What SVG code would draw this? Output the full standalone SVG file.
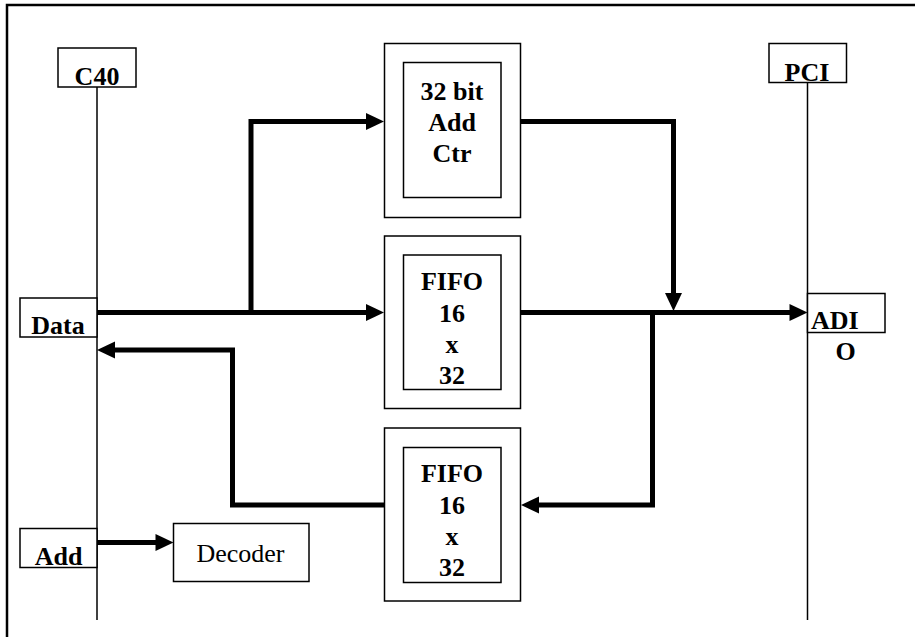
<svg xmlns="http://www.w3.org/2000/svg" width="915" height="637" viewBox="0 0 915 637">
<style>
.bg{fill:#fff}
.frame{fill:none;stroke:#000;stroke-width:2.5}
.box{fill:#fff;stroke:#000;stroke-width:1.5}
.bus{fill:none;stroke:#000;stroke-width:1.5}
.wire{fill:none;stroke:#000;stroke-width:5;stroke-linejoin:miter;stroke-linecap:butt}
.t{font-family:"Liberation Serif","Times New Roman",serif;font-size:26px;fill:#000}
.b{font-weight:bold}
.c{text-anchor:middle}
</style>
<defs>
<marker id="ah" markerUnits="userSpaceOnUse" markerWidth="18" markerHeight="17" refX="1" refY="8.5" orient="auto" overflow="visible">
<path d="M0,0 L18,8.5 L0,17 Z" fill="#000"/>
</marker>
</defs>
<rect class="bg" x="0" y="0" width="915" height="637"/>
<rect class="frame" x="7" y="5" width="930" height="660"/>

<g id="c40">
<line class="bus" x1="97" y1="87" x2="97" y2="620"/>
<rect class="box" x="58" y="48" width="78" height="39"/>
<text class="t b c" x="97" y="85">C40</text>
</g>

<g id="pci">
<line class="bus" x1="807.5" y1="83" x2="807.5" y2="620"/>
<rect class="box" x="769" y="43.5" width="77.5" height="39"/>
<text class="t b c" x="807" y="81">PCI</text>
</g>

<g id="data">
<rect class="box" x="20" y="298" width="77" height="39"/>
<text class="t b c" x="58" y="334">Data</text>
</g>

<g id="add">
<rect class="box" x="20" y="528.5" width="77" height="39"/>
<text class="t b c" x="58.5" y="565">Add</text>
</g>

<g id="adio">
<rect class="box" x="807.5" y="293.5" width="77.5" height="39"/>
<text class="t b" x="811" y="329">ADI</text>
<text class="t b c" x="845.5" y="360">O</text>
</g>

<g id="decoder">
<rect class="box" x="173.5" y="523.5" width="135.5" height="58"/>
<text class="t c" x="240.5" y="562">Decoder</text>
</g>

<g id="counter">
<rect class="box" x="384.5" y="43.5" width="136" height="174"/>
<rect class="box" x="403.5" y="62.5" width="97.5" height="135"/>
<text class="t b c" x="452" y="100">32 bit</text>
<text class="t b c" x="452" y="131">Add</text>
<text class="t b c" x="452" y="162">Ctr</text>
</g>

<g id="fifo1">
<rect class="box" x="384.5" y="236" width="136" height="172.5"/>
<rect class="box" x="403.5" y="255" width="97.5" height="134.5"/>
<text class="t b c" x="452" y="290">FIFO</text>
<text class="t b c" x="452" y="321.5">16</text>
<text class="t b c" x="452" y="352.5">x</text>
<text class="t b c" x="452" y="384">32</text>
</g>

<g id="fifo2">
<rect class="box" x="384.5" y="428" width="136" height="173"/>
<rect class="box" x="403.5" y="447.5" width="97.5" height="135"/>
<text class="t b c" x="452" y="482">FIFO</text>
<text class="t b c" x="452" y="514">16</text>
<text class="t b c" x="452" y="545">x</text>
<text class="t b c" x="452" y="576">32</text>
</g>

<g id="connectors">
<path class="wire" d="M97,312.5 H367" marker-end="url(#ah)"/>
<path class="wire" d="M251,312.5 V121.5 H367" marker-end="url(#ah)"/>
<path class="wire" d="M520.5,121.5 H673.5 V294" marker-end="url(#ah)"/>
<path class="wire" d="M520.5,312.5 H790.5" marker-end="url(#ah)"/>
<path class="wire" d="M652.5,312.5 V505 H538" marker-end="url(#ah)"/>
<path class="wire" d="M384.5,505 H232.5 V350 H114" marker-end="url(#ah)"/>
<path class="wire" d="M97,542.5 H156.5" marker-end="url(#ah)"/>
</g>
</svg>
